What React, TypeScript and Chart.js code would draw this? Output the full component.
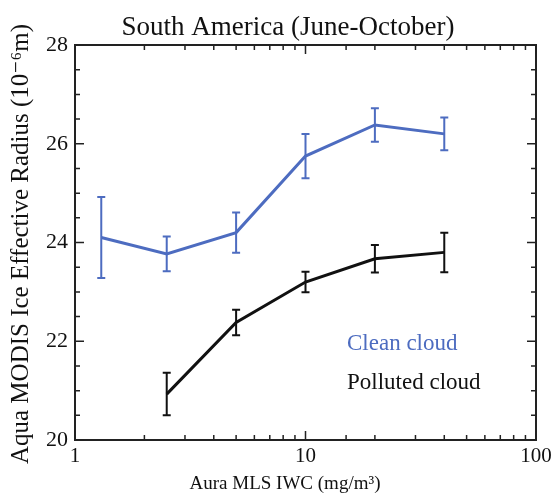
import React, { useEffect, useRef } from "react";
import { Chart, registerables } from "chart.js";

Chart.register(...registerables);

const TITLE = "South America (June-October)";
const X_TITLE = "Aura MLS IWC (mg/m³)";
const Y_TITLE = "Aqua MODIS Ice Effective Radius (10⁻⁶m)";

const cleanX = [1.3, 2.5, 5, 10, 20, 40];
const cleanY = [24.1, 23.77, 24.2, 25.75, 26.38, 26.2];
const cleanErr = [0.82, 0.35, 0.41, 0.45, 0.34, 0.33];

const pollutedX = [2.5, 5, 10, 20, 40];
const pollutedY = [20.93, 22.38, 23.2, 23.67, 23.8];
const pollutedErr = [0.43, 0.26, 0.21, 0.28, 0.4];

const X_MIN = 1;
const X_MAX = 100;
const Y_MIN = 20;
const Y_MAX = 28;
const xLabelValues = [1, 10, 100];
const yLabelValues = [20, 22, 24, 26, 28];

const BLUE = "#4d6cc0";
const BLACK = "#111111";
const FONT = "'Liberation Serif', 'DejaVu Serif', serif";

const W = 554;
const H = 498;

const errorBarPlugin = {
  id: "errorBars",
  afterDatasetsDraw(chart: any) {
    const ctx = chart.ctx;
    const y = chart.scales.y;
    chart.data.datasets.forEach((ds: any, i: number) => {
      const meta = chart.getDatasetMeta(i);
      ctx.save();
      ctx.strokeStyle = ds.borderColor;
      ctx.lineWidth = 2;
      meta.data.forEach((pt: any, j: number) => {
        const v = ds.data[j].y;
        const e = ds.errors[j];
        const top = y.getPixelForValue(v + e);
        const bot = y.getPixelForValue(v - e);
        const x = pt.x;
        ctx.beginPath();
        ctx.moveTo(x, top);
        ctx.lineTo(x, bot);
        ctx.moveTo(x - 4, top);
        ctx.lineTo(x + 4, top);
        ctx.moveTo(x - 4, bot);
        ctx.lineTo(x + 4, bot);
        ctx.stroke();
      });
      ctx.restore();
    });
  },
};

const framePlugin = {
  id: "frame",
  afterDraw(chart: any) {
    const ctx = chart.ctx;
    const { left, right, top, bottom } = chart.chartArea;
    const xs = chart.scales.x;
    const ys = chart.scales.y;
    ctx.save();
    ctx.strokeStyle = "#222";
    ctx.lineWidth = 2;
    ctx.strokeRect(left, top, right - left, bottom - top);
    ctx.lineWidth = 1.5;
    ctx.beginPath();
    xs.ticks.forEach((t: any) => {
      const v = t.value;
      if (v < X_MIN || v > X_MAX) return;
      const px = xs.getPixelForValue(v);
      const major = xLabelValues.includes(v);
      const len = major ? 9 : 5;
      ctx.moveTo(px, bottom);
      ctx.lineTo(px, bottom - len);
      ctx.moveTo(px, top);
      ctx.lineTo(px, top + len);
    });
    ys.ticks.forEach((t: any) => {
      const v = t.value;
      const py = ys.getPixelForValue(v);
      const major = yLabelValues.includes(v);
      const len = major ? 9 : 5;
      ctx.moveTo(left, py);
      ctx.lineTo(left + len, py);
      ctx.moveTo(right, py);
      ctx.lineTo(right - len, py);
    });
    ctx.stroke();

    ctx.fillStyle = "#111";
    ctx.textAlign = "center";
    ctx.textBaseline = "middle";
    ctx.font = `27px ${FONT}`;
    ctx.fillText(TITLE, 288, 28);
    ctx.font = `19px ${FONT}`;
    ctx.fillText(X_TITLE, 285, 484);
    ctx.save();
    ctx.translate(21, 244);
    ctx.rotate(-Math.PI / 2);
    ctx.font = `25px ${FONT}`;
    ctx.fillText(Y_TITLE, 0, 0);
    ctx.restore();

    ctx.textAlign = "left";
    ctx.font = `23px ${FONT}`;
    ctx.fillStyle = BLUE;
    ctx.fillText("Clean cloud", 347, 344);
    ctx.fillStyle = BLACK;
    ctx.fillText("Polluted cloud", 347, 383);
    ctx.restore();
  },
};

export default function App() {
  const ref = useRef<HTMLCanvasElement>(null);
  useEffect(() => {
    if (!ref.current) return;
    const chart = new Chart(ref.current, {
      type: "line",
      data: {
        datasets: [
          {
            label: "Clean cloud",
            data: cleanX.map((x, i) => ({ x, y: cleanY[i] })),
            errors: cleanErr,
            borderColor: BLUE,
            borderWidth: 3,
            pointRadius: 0,
            tension: 0,
          } as any,
          {
            label: "Polluted cloud",
            data: pollutedX.map((x, i) => ({ x, y: pollutedY[i] })),
            errors: pollutedErr,
            borderColor: BLACK,
            borderWidth: 3,
            pointRadius: 0,
            tension: 0,
          } as any,
        ],
      },
      options: {
        animation: false,
        responsive: false,
        layout: { padding: { top: 45, right: 18, left: 0, bottom: 0 } },
        plugins: {
          legend: { display: false },
          title: { display: false },
          tooltip: { enabled: false },
        },
        scales: {
          x: {
            type: "logarithmic",
            min: X_MIN,
            max: X_MAX,
            grid: { display: false, drawTicks: false },
            border: { display: false },
            ticks: {
              autoSkip: false,
              maxRotation: 0,
              padding: 4,
              color: "#111",
              font: { family: FONT, size: 21 },
              callback: (v: any) => (xLabelValues.includes(Number(v)) ? String(v) : ""),
            },
            afterFit: (s: any) => {
              s.height = 58;
              s.paddingLeft = 0;
              s.paddingRight = 0;
            },
          },
          y: {
            min: Y_MIN,
            max: Y_MAX,
            grid: { display: false, drawTicks: false },
            border: { display: false },
            ticks: {
              stepSize: 0.5,
              autoSkip: false,
              padding: 7,
              color: "#111",
              font: { family: FONT, size: 22 },
              callback: (v: any) => (yLabelValues.includes(Number(v)) ? String(v) : ""),
            },
            afterFit: (s: any) => {
              s.width = 75;
              s.paddingTop = 0;
              s.paddingBottom = 0;
            },
          },
        },
      },
      plugins: [errorBarPlugin, framePlugin],
    } as any);
    return () => chart.destroy();
  }, []);
  return (
    <div style={{ position: "fixed", left: 0, top: 0, width: W, height: H, background: "#fff" }}>
      <canvas ref={ref} width={W} height={H} style={{ display: "block" }} />
    </div>
  );
}
